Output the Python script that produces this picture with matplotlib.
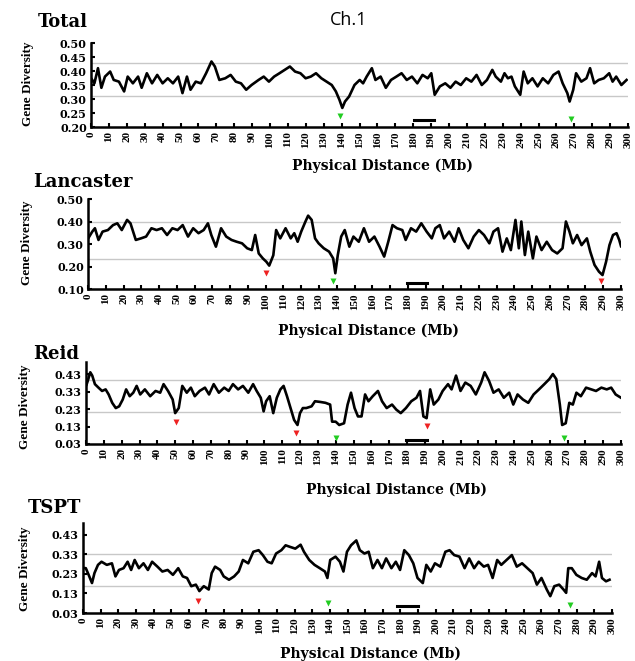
import matplotlib
matplotlib.use("Agg")
import matplotlib.pyplot as plt

# ---- data (Mb, gene diversity) ----
total_x = [0.5, 1.9, 3.9, 5.8, 7.8, 10.7, 12.7, 15.6, 18.5, 20.5, 23.4, 26.3, 28.3, 31.2, 34.1, 37, 40, 42.9,
           45.8, 48.7, 51.1, 53.6, 55.6, 58.5, 61.4, 64.3, 67.3, 69.2, 71.7, 75, 78, 80.9, 83.8, 86.7, 89.7,
           93.6, 96.5, 99.4, 102.3, 105.3, 108.2, 111.1, 114, 117, 119.9, 122.8, 125.7, 128.7, 131.6, 134.5,
           136.8, 138.8, 140.4, 141.9, 144.2, 147.2, 150.1, 152, 154, 156.9, 158.9, 161.8, 164.7, 167.6,
           170.6, 173.5, 176.4, 179.3, 182.3, 185.2, 188.1, 190.1, 192, 194.9, 197.9, 200.8, 203.7, 206.6,
           209.6, 212.5, 215.4, 218.3, 221.2, 224.2, 226.1, 229, 231, 232.9, 234.9, 236.8, 239.8, 241.7,
           244, 246.6, 249.5, 252.4, 255.4, 258.3, 261.2, 263.5, 266.1, 267.4, 269.4, 271, 273.9, 276.8,
           278.8, 281.1, 283.6, 286.5, 289.5, 291.4, 293.4, 296.3, 299.2]
total_y = [0.37, 0.356, 0.41, 0.34, 0.38, 0.398, 0.368, 0.362, 0.327, 0.38, 0.356, 0.38, 0.34, 0.392, 0.356,
           0.386, 0.356, 0.374, 0.356, 0.38, 0.321, 0.38, 0.333, 0.362, 0.356, 0.392, 0.434, 0.416, 0.368,
           0.374, 0.386, 0.362, 0.356, 0.333, 0.35, 0.368, 0.38, 0.362, 0.38, 0.392, 0.404, 0.416, 0.398,
           0.392, 0.374, 0.38, 0.392, 0.374, 0.362, 0.35, 0.327, 0.297, 0.268, 0.291, 0.309, 0.35, 0.368,
           0.356, 0.38, 0.41, 0.368, 0.38, 0.34, 0.368, 0.38, 0.392, 0.368, 0.38, 0.356, 0.386, 0.374, 0.392,
           0.315, 0.345, 0.356, 0.34, 0.362, 0.35, 0.374, 0.362, 0.386, 0.35, 0.368, 0.404, 0.38, 0.362,
           0.392, 0.374, 0.38, 0.345, 0.315, 0.398, 0.356, 0.374, 0.345, 0.374, 0.356, 0.386, 0.398, 0.356,
           0.321, 0.291, 0.333, 0.392, 0.362, 0.374, 0.41, 0.356, 0.368, 0.374, 0.392, 0.362, 0.38, 0.35,
           0.368]

lanc_x = [0.5, 2.4, 3.9, 5.9, 8.2, 11.2, 14.1, 16.5, 19, 22, 23.9, 26.9, 29.8, 32.7, 35.7, 38.6, 41.6, 44.5,
          47.5, 50.4, 53.3, 56.3, 59.2, 62.2, 65.1, 67.5, 69.4, 72, 74.9, 77.8, 80.8, 83.7, 86.7, 89.6, 92.2,
          94.1, 96.1, 98.4, 100.4, 102, 104.3, 105.9, 108.2, 111.2, 114.1, 116.1, 118, 120, 122.4, 123.9,
          125.9, 127.8, 129.8, 132.7, 135.7, 138, 139.2, 140.6, 142.5, 144.5, 147.1, 149.4, 152.4, 155.3,
          158.2, 161.2, 164.1, 166.7, 169, 171.4, 173.9, 176.9, 178.8, 181.8, 184.7, 187.6, 190.6, 193.5,
          195.5, 198, 200.4, 203.3, 206.3, 208.6, 211.2, 214.1, 217.1, 220, 222.9, 225.9, 228.2, 230.8,
          233.3, 235.7, 238, 240.6, 242.5, 243.9, 245.9, 247.8, 250.4, 252.4, 255.3, 258.2, 261.2, 264.1,
          267.1, 269, 271, 272.9, 275.3, 277.8, 280.8, 282.7, 285.1, 287.6, 289.6, 291.6, 293.5, 295.5,
          297.5, 299, 300]
lanc_y = [0.33, 0.355, 0.37, 0.318, 0.355, 0.362, 0.384, 0.392, 0.362, 0.407, 0.392, 0.318, 0.325, 0.333,
          0.37, 0.362, 0.37, 0.34, 0.37, 0.362, 0.384, 0.333, 0.37, 0.348, 0.362, 0.392, 0.34, 0.288, 0.37,
          0.333, 0.318, 0.31, 0.303, 0.281, 0.273, 0.34, 0.258, 0.236, 0.221, 0.204, 0.25, 0.362, 0.325,
          0.37, 0.325, 0.348, 0.31, 0.355, 0.4, 0.426, 0.407, 0.325, 0.303, 0.281, 0.266, 0.236, 0.17, 0.251,
          0.333, 0.362, 0.288, 0.333, 0.31, 0.37, 0.31, 0.333, 0.288, 0.244, 0.31, 0.384, 0.37, 0.362, 0.318,
          0.37, 0.355, 0.392, 0.355, 0.325, 0.37, 0.384, 0.325, 0.355, 0.31, 0.37, 0.318, 0.281, 0.333, 0.362,
          0.34, 0.303, 0.355, 0.37, 0.266, 0.325, 0.273, 0.407, 0.281, 0.4, 0.251, 0.355, 0.236, 0.333, 0.273,
          0.31, 0.273, 0.258, 0.281, 0.4, 0.355, 0.303, 0.34, 0.295, 0.325, 0.266, 0.207, 0.177, 0.162, 0.221,
          0.295, 0.34, 0.348, 0.318, 0.29]

reid_x = [0.3, 1, 2.4, 3.5, 5, 7, 9, 11, 12.7, 14.7, 16.7, 18.6, 20.6, 22.5, 24.5, 26.5, 28.4, 30.4, 33, 36,
          39, 41.6, 43.5, 46, 48.6, 50, 52, 54, 56.5, 58.8, 61, 63.7, 66.7, 69, 71.6, 74.5, 77.5, 80, 82.4,
          85.3, 88, 91, 93.7, 95.7, 98, 99.6, 101, 103, 105, 107, 109, 110.8, 112.7, 114.7, 116.7, 118.6,
          120, 121.6, 123.5, 126.5, 128.4, 131.4, 134.3, 136.9, 138, 140, 142, 144.7, 146.7, 148.6, 150.6,
          152.5, 154.5, 156.5, 158.4, 160.8, 163.7, 166, 168.6, 171.6, 174, 176.5, 179.4, 182.4, 185.3,
          187.3, 189.2, 191, 193, 195, 197.6, 200, 203, 205, 207.5, 210, 212.7, 215.7, 218.6, 221.6, 223.5,
          226, 228.5, 231.4, 234.3, 237.3, 239.6, 242, 245, 248, 251, 254, 257, 259.8, 261.8, 263.7, 265.7,
          267, 269, 271, 273, 275, 277.5, 280.4, 283.3, 286, 289, 292, 294.5, 297, 300]
reid_y = [0.37, 0.392, 0.441, 0.422, 0.373, 0.353, 0.334, 0.343, 0.314, 0.266, 0.236, 0.246, 0.285, 0.343,
          0.304, 0.324, 0.363, 0.314, 0.343, 0.304, 0.334, 0.324, 0.373, 0.334, 0.285, 0.207, 0.236, 0.363,
          0.324, 0.353, 0.304, 0.334, 0.353, 0.314, 0.373, 0.324, 0.353, 0.334, 0.373, 0.343, 0.363, 0.324,
          0.373, 0.334, 0.295, 0.217, 0.275, 0.304, 0.207, 0.295, 0.343, 0.363, 0.304, 0.236, 0.168, 0.139,
          0.207, 0.236, 0.236, 0.246, 0.275, 0.271, 0.266, 0.256, 0.158, 0.158, 0.139, 0.149, 0.256, 0.324,
          0.236, 0.188, 0.188, 0.314, 0.275, 0.304, 0.334, 0.275, 0.236, 0.256, 0.227, 0.207, 0.236, 0.275,
          0.295, 0.334, 0.188, 0.178, 0.343, 0.256, 0.285, 0.334, 0.373, 0.343, 0.422, 0.334, 0.382, 0.363,
          0.314, 0.382, 0.441, 0.392, 0.324, 0.343, 0.295, 0.324, 0.256, 0.314, 0.285, 0.266, 0.314, 0.343,
          0.373, 0.402, 0.431, 0.402, 0.256, 0.139, 0.149, 0.266, 0.256, 0.324, 0.304, 0.353, 0.343, 0.334,
          0.353, 0.343, 0.353, 0.314, 0.295]

tspt_x = [0.5, 1.6, 3.2, 5.1, 6.5, 8.5, 10.5, 13.5, 16.4, 18.4, 20.4, 23, 25.3, 27.3, 29.3, 31.7, 34.3, 36.8,
          39.2, 42.2, 45, 48, 51, 54, 56.6, 59, 61.4, 64, 66, 68.5, 71.3, 73, 74.9, 77.8, 79.8, 82.8, 85.7,
          88.3, 90.7, 93.7, 96.6, 99.6, 102, 104.6, 107, 109.5, 112.5, 114.9, 117.4, 120.4, 123.4, 125.3,
          128.3, 131.3, 134.3, 137.2, 138.6, 140.2, 143.2, 145.7, 147.7, 149.7, 152, 155, 157, 159.6, 162,
          164.4, 167, 169.5, 171.9, 174.9, 177.4, 179.8, 182.2, 184.8, 187.3, 189.7, 192.7, 194.7, 197.2,
          199.6, 202.6, 205.5, 207.9, 210.5, 213.5, 216.4, 219, 221.8, 224.4, 227.3, 229.7, 232.3, 234.9,
          237.2, 240.2, 243.2, 246, 249, 252, 255, 257.4, 260, 263, 265, 267.3, 270, 272.5, 274, 275.2,
          277.2, 279.8, 282.8, 285.7, 288.7, 290.7, 292.7, 294.3, 296.6, 298.6]
tspt_y = [0.26, 0.259, 0.225, 0.183, 0.234, 0.276, 0.292, 0.276, 0.284, 0.217, 0.25, 0.259, 0.292, 0.25,
          0.301, 0.259, 0.284, 0.25, 0.292, 0.267, 0.242, 0.25, 0.225, 0.259, 0.217, 0.209, 0.167, 0.175,
          0.142, 0.167, 0.15, 0.234, 0.267, 0.25, 0.217, 0.2, 0.217, 0.242, 0.301, 0.284, 0.343, 0.351, 0.326,
          0.292, 0.284, 0.334, 0.351, 0.376, 0.368, 0.359, 0.379, 0.343, 0.301, 0.276, 0.259, 0.242, 0.209,
          0.301, 0.318, 0.292, 0.242, 0.343, 0.376, 0.401, 0.351, 0.334, 0.343, 0.259, 0.301, 0.259, 0.309,
          0.259, 0.292, 0.25, 0.351, 0.326, 0.284, 0.209, 0.183, 0.276, 0.242, 0.284, 0.267, 0.343, 0.351,
          0.326, 0.318, 0.259, 0.309, 0.259, 0.292, 0.267, 0.276, 0.209, 0.301, 0.276, 0.301, 0.326, 0.267,
          0.284, 0.259, 0.234, 0.175, 0.209, 0.15, 0.116, 0.167, 0.175, 0.15, 0.133, 0.259, 0.259, 0.225,
          0.209, 0.2, 0.234, 0.217, 0.292, 0.209, 0.192, 0.2]

# threshold lines, y ticks, markers
total_lines = [0.427, 0.309]
lanc_lines = [0.398, 0.235]
reid_lines = [0.396, 0.211]
tspt_lines = [0.334, 0.170]

total_yticks = [0.20, 0.25, 0.30, 0.35, 0.40, 0.45, 0.50]
lanc_yticks = [0.10, 0.20, 0.30, 0.40, 0.50]
reid_yticks = [0.03, 0.13, 0.23, 0.33, 0.43]
tspt_yticks = [0.03, 0.13, 0.23, 0.33, 0.43]

total_green = [(139, 0.238), (268, 0.229)]
total_red = []
total_bar = (180.3, 191.4, 0.226)
lanc_green = [(138, 0.134)]
lanc_red = [(100.4, 0.172), (288.6, 0.136)]
lanc_bar = (179.8, 190.6, 0.127)
reid_green = [(140.2, 0.067), (268.2, 0.067)]
reid_red = [(50.6, 0.158), (117.6, 0.094), (191.2, 0.135)]
reid_bar = (179.4, 191.2, 0.055)
tspt_green = [(139.2, 0.081), (276.4, 0.071)]
tspt_red = [(65.3, 0.091)]
tspt_bar = (178.2, 189.7, 0.064)

xticks = list(range(0, 301, 10))

SERIF = "Liberation Serif"
WIDE = "DejaVu Serif"

fig = plt.figure(figsize=(6.35, 6.61), dpi=100)

panels = [
    # name, x, y, lines, yticks, ylim, green, red, bar, axes rect, title pos, xlabel pos, ylabel pos
    ("Total", total_x, total_y, total_lines, total_yticks, (0.20, 0.50), total_green, total_red, total_bar,
     [91/635, 1-127/661, 537/635, 84/661], (38, 22), (382, 166), (28, 84)),
    ("Lancaster", lanc_x, lanc_y, lanc_lines, lanc_yticks, (0.10, 0.50), lanc_green, lanc_red, lanc_bar,
     [88/635, 1-289/661, 533/635, 90/661], (33, 182), (369, 331), (27, 243)),
    ("Reid", reid_x, reid_y, reid_lines, reid_yticks, (0.03, 0.50), reid_green, reid_red, reid_bar,
     [86/635, 1-444/661, 535/635, 82/661], (33, 354), (397, 490), (25, 407)),
    ("TSPT", tspt_x, tspt_y, tspt_lines, tspt_yticks, (0.03, 0.49), tspt_green, tspt_red, tspt_bar,
     [83/635, 1-613/661, 529/635, 90/661], (28, 508), (370, 654), (25, 569)),
]

for (name, xs, ys, lines, yt, ylim, green, red, bar, rect, tpos, xlpos, ylpos) in panels:
    ax = fig.add_axes(rect)
    for v in lines:
        ax.axhline(v, color="#c8c8c8", lw=1.0, zorder=1)
    ax.plot(xs, ys, color="black", lw=1.9, zorder=3)
    for (gx, gy) in green:
        ax.plot(gx, gy, marker="v", color="#22cc22", ms=4.5, mec="none", zorder=4)
    for (rx, ry) in red:
        ax.plot(rx, ry, marker="v", color="#ee2222", ms=4.5, mec="none", zorder=4)
    ax.plot([bar[0], bar[1]], [bar[2], bar[2]], color="black", lw=2.2, zorder=4)

    ax.set_xlim(0, 300)
    ax.set_ylim(*ylim)
    ax.set_xticks(xticks)
    ax.set_xticklabels([str(t) for t in xticks], rotation=90, fontsize=8,
                       family=SERIF, fontweight="bold")
    ax.set_yticks(yt)
    ax.set_yticklabels(["%.2f" % t for t in yt], fontsize=8, family=WIDE, fontweight="bold")
    ax.tick_params(direction="in", length=3, width=1.5, pad=3)
    for s in ["top", "right"]:
        ax.spines[s].set_visible(False)
    for s in ["left", "bottom"]:
        ax.spines[s].set_linewidth(1.8)

    fig.text(tpos[0]/635, 1-tpos[1]/661, name, fontsize=13, fontweight="bold",
             family=WIDE, ha="left", va="center")
    fig.text(xlpos[0]/635, 1-xlpos[1]/661, "Physical Distance (Mb)", fontsize=10,
             fontweight="bold", family=WIDE, ha="center", va="center")
    fig.text(ylpos[0]/635, 1-ylpos[1]/661, "Gene Diversity", fontsize=9.5,
             family=SERIF, fontweight="bold", rotation=90, ha="center", va="center")

fig.text(330/635, 1-20/661, "Ch.1", fontsize=13, family="Open Sans", ha="left", va="center")

fig.savefig("out.png", dpi=100)
